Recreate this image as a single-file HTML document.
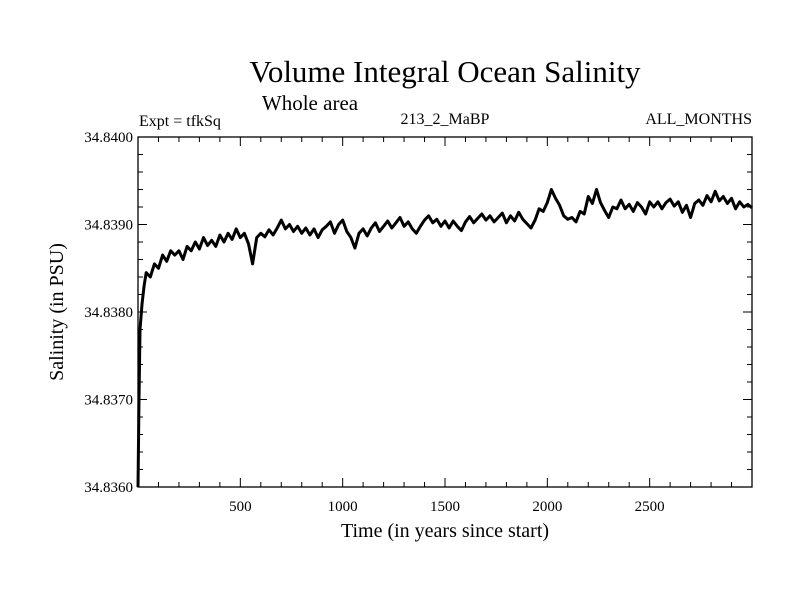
<!DOCTYPE html>
<html><head><meta charset="utf-8"><style>
body{margin:0;background:#fff}
svg text{font-family:"Liberation Serif",serif;fill:#000}
</style></head><body>
<svg width="800" height="600" xmlns="http://www.w3.org/2000/svg">
<rect width="800" height="600" fill="#fff"/>
<text x="445" y="82" font-size="31" text-anchor="middle">Volume Integral Ocean Salinity</text>
<text x="310" y="110" font-size="21" text-anchor="middle">Whole area</text>
<text x="139" y="126" font-size="16">Expt = tfkSq</text>
<text x="445" y="124" font-size="16" text-anchor="middle">213_2_MaBP</text>
<text x="752" y="124" font-size="16" text-anchor="end">ALL_MONTHS</text>
<g id="axes"></g>
<text x="445" y="537" font-size="20" text-anchor="middle">Time (in years since start)</text>
<text transform="translate(63,312) rotate(-90)" font-size="20" text-anchor="middle">Salinity (in PSU)</text>
</svg>
<script>
const years=[0,5,10,20,30,40,60,80,100,120,140,160,180,200,220,240,260,280,300,320,340,360,380,400,420,440,460,480,500,520,540,560,580,600,620,640,660,680,700,720,740,760,780,800,820,840,860,880,900,920,940,960,980,1000,1020,1040,1060,1080,1100,1120,1140,1160,1180,1200,1220,1240,1260,1280,1300,1320,1340,1360,1380,1400,1420,1440,1460,1480,1500,1520,1540,1560,1580,1600,1620,1640,1660,1680,1700,1720,1740,1760,1780,1800,1820,1840,1860,1880,1900,1920,1940,1960,1980,2000,2020,2040,2060,2080,2100,2120,2140,2160,2180,2200,2220,2240,2260,2280,2300,2320,2340,2360,2380,2400,2420,2440,2460,2480,2500,2520,2540,2560,2580,2600,2620,2640,2660,2680,2700,2720,2740,2760,2780,2800,2820,2840,2860,2880,2900,2920,2940,2960,2980,3000];
const anom=[0,10,18,21,23,24.5,24,25.5,25,26.5,25.8,27,26.5,27,26,27.5,27,28,27.2,28.5,27.6,28.2,27.5,28.8,28,29,28.3,29.5,28.5,29,27.8,25.5,28.5,29,28.6,29.4,28.8,29.6,30.5,29.5,30,29.2,29.8,29,29.6,28.8,29.5,28.5,29.4,29.8,30.3,29,30,30.5,29.2,28.5,27.3,29,29.5,28.7,29.6,30.2,29.2,29.8,30.4,29.6,30.2,30.8,29.8,30.3,29.5,29,29.8,30.5,31,30.2,30.6,29.8,30.4,29.6,30.4,29.8,29.3,30.3,30.9,30.2,30.7,31.2,30.5,31,30.3,30.8,31.3,30.2,31,30.4,31.4,30.6,30.1,29.6,30.5,31.8,31.5,32.5,34,33,32.2,31,30.6,30.8,30.3,31.5,31.2,33.2,32.4,34,32.5,31.6,30.8,32,31.8,32.8,31.8,32.3,31.5,32.5,32,31.2,32.6,32,32.6,31.8,32.5,32.9,32.1,32.6,31.4,32.2,30.8,32.4,32.8,32.2,33.3,32.6,33.8,32.7,33.2,32.4,33,31.8,32.6,32,32.3,31.9];
const baseSal=34.836;
const yTicks=[34.836,34.837,34.838,34.839,34.840];
const yTickLabels=["34.8360","34.8370","34.8380","34.8390","34.8400"];
const xTicks=[500,1000,1500,2000,2500];

const L=138,R=752,T=137,B=487;
const xMin=0,xMax=3000,yMin=34.836,yMax=34.840;
const xs=v=>L+(v-xMin)/(xMax-xMin)*(R-L);
const ys=v=>B-(v-yMin)/(yMax-yMin)*(B-T);
const NS="http://www.w3.org/2000/svg";
const g=document.getElementById('axes');
function mk(tag,attrs){const e=document.createElementNS(NS,tag);for(const k in attrs)e.setAttribute(k,attrs[k]);g.appendChild(e);return e;}

const frame=mk('rect',{x:L,y:T,width:R-L,height:B-T,fill:'none',stroke:'#000','stroke-width':1.3});



for(let i=0;i<=20;i++){
  const v=yMin+i*0.0002, y=ys(v), len=(i%5===0)?9:5;
  const t1=mk('line',{x1:L,x2:L+len,y1:y,y2:y,stroke:'#000'});
  
  
  const t2=mk('line',{x1:R,x2:R-len,y1:y,y2:y,stroke:'#000'});
  
  
}
yTicks.forEach((v,i)=>{
  const t=mk('text',{x:L-5,y:ys(v)+5,'font-size':15,'text-anchor':'end'});
  t.textContent=yTickLabels[i];
  
  
});
for(let v=100;v<3000;v+=100){
  const x=xs(v), len=(v%500===0)?9:5;
  const t1=mk('line',{x1:x,x2:x,y1:B,y2:B-len,stroke:'#000'});
  
  
  const t2=mk('line',{x1:x,x2:x,y1:T,y2:T+len,stroke:'#000'});
  
  
}
xTicks.forEach(v=>{
  const t=mk('text',{x:xs(v),y:B+24,'font-size':15,'text-anchor':'middle'});
  t.textContent=String(v);
  
  
});
const pts=years.map((yr,i)=>xs(yr).toFixed(1)+','+ys(baseSal+anom[i]*0.0001).toFixed(1)).join(' ');
const line=mk('polyline',{points:pts,fill:'none',stroke:'#000','stroke-width':3,'stroke-linejoin':'round'});


</script>
</body></html>
